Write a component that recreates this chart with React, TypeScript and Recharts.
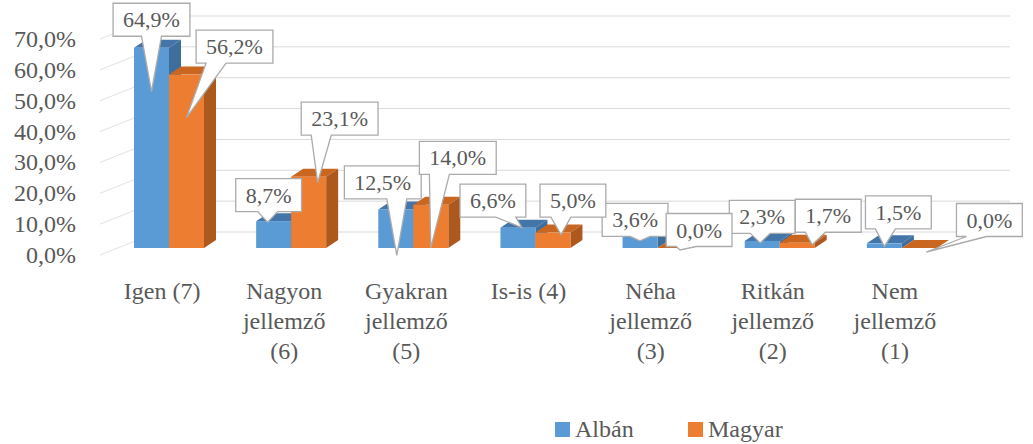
import React from 'react';
import { BarChart, Bar, XAxis, YAxis, CartesianGrid, LabelList } from 'recharts';

const CATEGORIES = [
    'Igen (7)',
    'Nagyon\njellemző\n(6)',
    'Gyakran\njellemző\n(5)',
    'Is-is (4)',
    'Néha\njellemző\n(3)',
    'Ritkán\njellemző\n(2)',
    'Nem\njellemző\n(1)',
];
const ALBAN = [64.9, 8.7, 12.5, 6.6, 3.6, 2.3, 1.5];
const MAGYAR = [56.2, 23.1, 14.0, 5.0, 0.0, 1.7, 0.0];
const Y_TICKS = [0, 10, 20, 30, 40, 50, 60, 70];
const SERIES_NAMES = ['Albán', 'Magyar'];

// callout placement: [box dx, box dy, tip dx, tip dy] from the bar's top centre
const ALBAN_CALLOUTS = [
    [0, -28, 0, 44],
    [-5, -26, -6, 1],
    [-13, -27, 1, 46],
    [-25, -27, 4, 0],
    [-5, -17, 0, 4],
    [0, -24, -2, 2],
    [14, -31, 0, 3],
];
const MAGYAR_CALLOUTS = [
    [48, -28, 0, 43],
    [31, -58, 9, 6],
    [27, -47, 0, 43],
    [20, -32, 8, 2],
    [24, -18, 5, 2],
    [31, -27, 15, 2],
    [70, -28, 7, 4],
];

const data = CATEGORIES.map((name, i) => ({ name, alban: ALBAN[i], magyar: MAGYAR[i] }));

const FONT = "'Liberation Serif', 'Times New Roman', serif";
const TEXT = '#595959';
const GRID = '#D9D9D9';
const W = 1033;
const H = 444;
const MARGIN = { top: 32, right: 70, left: 107, bottom: 136 };
const txtStyle = { fontFamily: FONT };

const fmt = (v: number) => `${v.toFixed(1).replace('.', ',')}%`;

const textWidth = (s: string, size: number) => {
    let w = 0;
    for (const ch of s) {
        if (ch === ',') w += 0.25;
        else if (ch === '%') w += 0.833;
        else w += 0.5;
    }
    return w * size;
};

const DEPTH_X = 12;
const DEPTH_Y = 8;

const makeBar3D = (top: string, side: string) => (props: any) => {
    const { x, y, width, height, fill } = props;
    if (x == null || y == null) return <g />;
    const h = Math.max(height || 0, 0);
    return (
        <g>
            <path
                d={`M${x},${y}L${x + DEPTH_X},${y - DEPTH_Y}H${x + width + DEPTH_X}L${x + width},${y}Z`}
                fill={top}
            />
            <path
                d={`M${x + width},${y}L${x + width + DEPTH_X},${y - DEPTH_Y}V${y + h - DEPTH_Y}L${x + width},${y + h}Z`}
                fill={side}
            />
            <rect x={x} y={y} width={width} height={h} fill={fill} />
        </g>
    );
};

const makeCallout = (offsets: number[][]) => (props: any) => {
    const vb = props.viewBox ?? props;
    const x = vb.x ?? props.x;
    const y = vb.y ?? props.y;
    const width = vb.width ?? props.width;
    const { value, index } = props;
    if (x == null || index == null) return null;
    const [cdx, cdy, tdx, tdy] = offsets[index];
    const mid = x + width / 2;
    const cx = mid + cdx;
    const cy = y + cdy;
    const label = fmt(Number(value));
    const bw = textWidth(label, 22) + 20;
    const bh = 33;
    const left = cx - bw / 2;
    const right = cx + bw / 2;
    const top = cy - bh / 2;
    const bottom = cy + bh / 2;
    const tipX = mid + tdx;
    const tipY = y + tdy;
    const bc = Math.min(Math.max(tipX, left + 20), right - 20);
    const d = `M${left},${top}H${right}V${bottom}H${bc + 10}L${tipX},${tipY}L${bc - 10},${bottom}H${left}Z`;
    return (
        <g>
            <path d={d} fill="#ffffff" stroke="#ABABAB" strokeWidth={1.3} />
            <text x={cx} y={cy + 7.5} textAnchor="middle" style={txtStyle} fontSize={22} fill={TEXT}>
                {label}
            </text>
        </g>
    );
};

const XTick = (props: any) => {
    const { x, y, payload } = props;
    const lines = String(payload.value).split('\n');
    return (
        <text x={x - 7} y={y + 51} textAnchor="middle" style={txtStyle} fontSize={24} fill={TEXT}>
            {lines.map((line, i) => (
                <tspan key={i} x={x - 7} dy={i === 0 ? 0 : 30}>
                    {line}
                </tspan>
            ))}
        </text>
    );
};

const YTick = (props: any) => {
    const { y, payload } = props;
    return (
        <text x={76} y={y + 15} textAnchor="end" style={txtStyle} fontSize={24} fill={TEXT}>
            {fmt(payload.value)}
        </text>
    );
};

// back wall line plus the short side-wall diagonal
const gridLine = (p: any) => {
    const y = p.y1;
    return (
        <g key={p.key ?? `g-${y}`}>
            <line x1={100} y1={y + 7} x2={158} y2={y - 16} stroke="#E2E2E2" strokeWidth={1} />
            <line x1={158} y1={y - 16} x2={1010} y2={y - 16} stroke={GRID} strokeWidth={1} />
        </g>
    );
};

const App: React.FC = () => {
    return (
        <div style={{ position: 'absolute', left: 0, top: 0, width: W, height: H, background: '#fff', fontFamily: FONT }}>
            {/* bars */}
            <div style={{ position: 'absolute', left: 0, top: 0 }}>
                <BarChart width={W} height={H} data={data} margin={MARGIN} barGap={0}>
                    <CartesianGrid vertical={false} horizontal={gridLine} />
                    <XAxis
                        dataKey="name"
                        height={60}
                        axisLine={false}
                        tickLine={false}
                        tickSize={0}
                        tickMargin={0}
                        interval={0}
                        tick={<XTick />}
                    />
                    <YAxis
                        domain={[0, 70]}
                        ticks={Y_TICKS}
                        width={1}
                        axisLine={false}
                        tickLine={false}
                        tickSize={0}
                        tickMargin={0}
                        interval={0}
                        tick={<YTick />}
                    />
                    <Bar
                        dataKey="alban"
                        name={SERIES_NAMES[0]}
                        fill="#5B9BD5"
                        barSize={35}
                        shape={makeBar3D('#4475A8', '#3F6D9C')}
                        isAnimationActive={false}
                    />
                    <Bar
                        dataKey="magyar"
                        name={SERIES_NAMES[1]}
                        fill="#ED7D31"
                        barSize={35}
                        shape={makeBar3D('#C9661F', '#AD581D')}
                        isAnimationActive={false}
                    />
                </BarChart>
            </div>
            {/* callouts on top of every bar */}
            <div style={{ position: 'absolute', left: 0, top: 0 }}>
                <BarChart width={W} height={H} data={data} margin={MARGIN} barGap={0}>
                    <XAxis dataKey="name" height={60} axisLine={false} tickLine={false} tick={false} interval={0} />
                    <YAxis domain={[0, 70]} ticks={Y_TICKS} width={1} axisLine={false} tickLine={false} tick={false} />
                    <Bar dataKey="alban" barSize={35} fill="none" shape={() => <g />} isAnimationActive={false}>
                        <LabelList dataKey="alban" content={makeCallout(ALBAN_CALLOUTS)} />
                    </Bar>
                    <Bar dataKey="magyar" barSize={35} fill="none" shape={() => <g />} isAnimationActive={false}>
                        <LabelList dataKey="magyar" content={makeCallout(MAGYAR_CALLOUTS)} />
                    </Bar>
                </BarChart>
            </div>
            {/* legend */}
            <div
                style={{
                    position: 'absolute',
                    top: 415,
                    left: 555,
                    display: 'flex',
                    alignItems: 'center',
                    fontFamily: FONT,
                    fontSize: 24,
                    color: TEXT,
                    lineHeight: '28px',
                }}
            >
                <span style={{ width: 15, height: 15, background: '#5B9BD5', display: 'inline-block', marginRight: 5 }} />
                <span style={{ width: 113 }}>{SERIES_NAMES[0]}</span>
                <span style={{ width: 15, height: 15, background: '#ED7D31', display: 'inline-block', marginRight: 5 }} />
                <span>{SERIES_NAMES[1]}</span>
            </div>
        </div>
    );
};

export default App;
